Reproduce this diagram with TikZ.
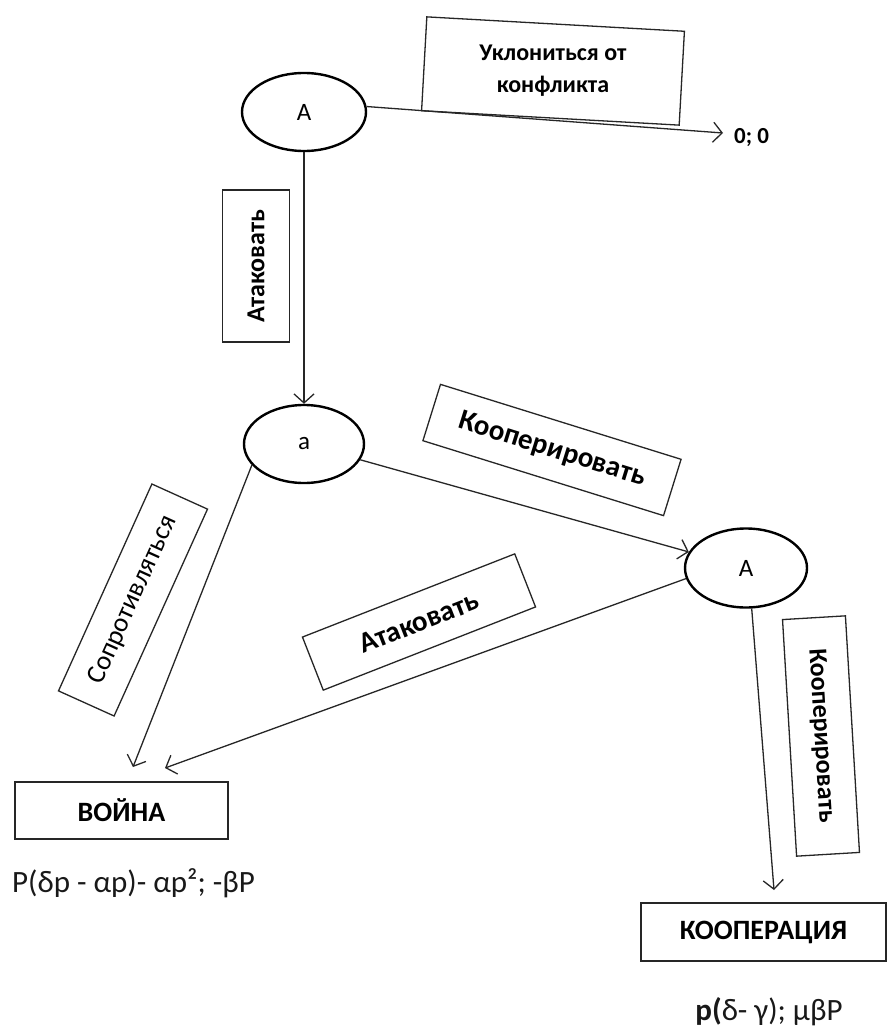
\documentclass[tikz,border=0pt]{standalone}
\usepackage{fontspec}
\setmainfont{Carlito}
\usetikzlibrary{arrows.meta,shapes.geometric}
\begin{document}
\begin{tikzpicture}[x=1pt,y=-1pt,
  player/.style={ellipse,draw=black,line width=2.4pt,inner sep=0pt,font=\fontsize{25}{28}\selectfont},
  lblbox/.style={draw=black!85,line width=1.3pt,inner sep=0pt},
  lbl/.style={lblbox,font=\bfseries\fontsize{26}{30}\selectfont},
  lblbig/.style={lblbox,font=\bfseries\fontsize{29}{33}\selectfont},
  lblreg/.style={lblbox,font=\fontsize{27}{31}\selectfont},
  outc/.style={draw=black!85,line width=1.6pt,inner sep=0pt,font=\bfseries\fontsize{28}{32}\selectfont},
  conn/.style={draw=black!85,line width=1.3pt,-{Straight Barb[length=9pt,width=20pt,line width=1.3pt]}},
  pay/.style={font=\fontsize{31}{35}\selectfont,inner sep=0pt,text=black!90}
]
\useasboundingbox (0,0) rectangle (888,1030);
\fill[white] (0,0) rectangle (888,1030);

% players
\node[player,minimum width=124pt,minimum height=78pt] (A1) at (304,112) {A};
\node[player,minimum width=120pt,minimum height=78pt] (a) at (304,444) {a};
\node[player,minimum width=122pt,minimum height=79pt] (A2) at (746,568) {A};

% outcomes
\node[outc,minimum width=213pt,minimum height=57pt] (war) at (121.5,810.5) {ВОЙНА};
\node[outc,minimum width=245pt,minimum height=58pt] (coop) at (763.5,932) {КООПЕРАЦИЯ};
\node[anchor=west,inner sep=0pt,font=\bfseries\fontsize{23}{26}\selectfont] (zero) at (734,138) {0; 0};

% payoffs
\node[pay,anchor=west] (warpay) at (12,883) {P(δp - αp)- αp²; -βP};
\node[pay] (cooppay) at (769,1012) {\textbf{p(}δ- γ); μβP};

% arrow end points
\coordinate (z0) at (723,133);
\coordinate (w1) at (133,767);
\coordinate (w2) at (165,768);
\coordinate (c1) at (774,890);

% connectors
\draw[conn] (A1.5) -- (z0);
\draw[conn] (A1.south) -- (a.north);
\draw[conn] (a) -- (A2);
\draw[conn] (a.202) -- (w1);
\draw[conn] (A2.190) -- (w2);
\draw[conn] (A2.-82) -- (c1);

% label boxes
\node[lblbox,rotate=-3.2,minimum width=258pt,minimum height=94pt] (b1) at (553,71) {};
\node[align=center,font=\bfseries\fontsize{24}{32}\selectfont,inner sep=0pt] (t1) at (b1.center) {Уклониться от\\конфликта};
\node[lbl,rotate=90,minimum width=152pt,minimum height=67pt] (b2) at (256,266) {Атаковать};
\node[lblbig,rotate=-17.3,minimum width=252pt,minimum height=59pt] (b3) at (552,450) {Кооперировать};
\node[lblreg,rotate=65.7,minimum width=227pt,minimum height=61pt] (b4) at (133,600) {Сопротивляться};
\node[lblbig,rotate=21.4,minimum width=228pt,minimum height=57pt] (b5) at (419,622) {Атаковать};
\node[lbl,rotate=-86.6,minimum width=237pt,minimum height=63pt] (b6) at (821,736) {Кооперировать};
\end{tikzpicture}
\end{document}
